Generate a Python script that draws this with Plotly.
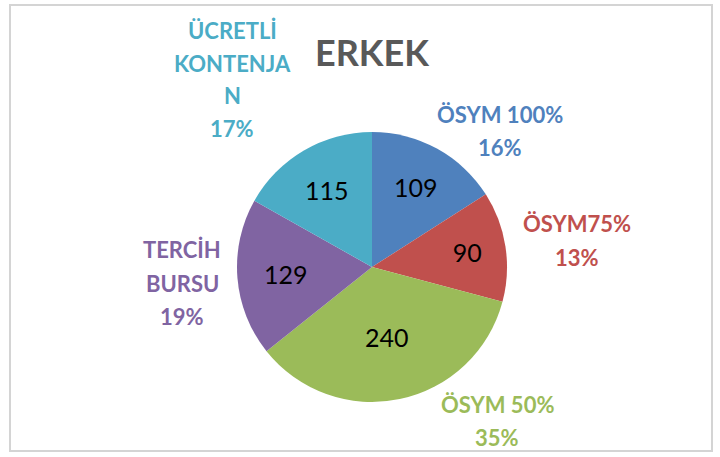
import plotly.graph_objects as go

# Data
categories = ['ÖSYM 100%', 'ÖSYM75%', 'ÖSYM 50%', 'TERCİH BURSU', 'ÜCRETLİ KONTENJAN']
values = [109, 90, 240, 129, 115]
colors = ['#4F81BD', '#C0504D', '#9BBB59', '#8064A2', '#4BACC6']

# outside label lines (as wrapped in the original chart) and their anchor (px)
label_lines = [
    ['ÖSYM 100%', '16%'],
    ['ÖSYM75%', '13%'],
    ['ÖSYM 50%', '35%'],
    ['TERCİH', 'BURSU', '19%'],
    ['ÜCRETLİ', 'KONTENJA', 'N', '17%'],
]
label_pos = [(500, 114), (577, 224), (497, 404), (182, 250), (232, 30)]
LINE_STEP = 33

W, H = 720, 457
cx, cy, r = 372, 267, 135

fig = go.Figure(go.Pie(
    labels=categories,
    values=values,
    sort=False,
    direction='clockwise',
    rotation=0,
    marker=dict(colors=colors, line=dict(color='white', width=0)),
    textinfo='value',
    textposition='inside',
    insidetextorientation='horizontal',
    textfont=dict(family='Lato, Carlito, sans-serif', size=25, color='black'),
    domain=dict(x=[(cx - r) / W, (cx + r) / W], y=[1 - (cy + r) / H, 1 - (cy - r) / H]),
    showlegend=False,
    hoverinfo='label+value+percent',
))

annotations = [dict(
    x=cx / W, y=1 - 52 / H, xref='paper', yref='paper',
    text='<b>ERKEK</b>', showarrow=False,
    font=dict(family='Lato, Carlito, sans-serif', size=36, color='#595959'),
    xanchor='center', yanchor='middle',
)]
for lines, (lx, ly), col in zip(label_lines, label_pos, colors):
    for k, line in enumerate(lines):
        annotations.append(dict(
            x=lx / W, y=1 - (ly + k * LINE_STEP) / H, xref='paper', yref='paper',
            text='<b>' + line + '</b>', showarrow=False,
            font=dict(family='Lato, Carlito, sans-serif', size=22, color=col),
            xanchor='center', yanchor='middle',
        ))

fig.update_layout(
    width=W, height=H,
    margin=dict(l=0, r=0, t=0, b=0),
    paper_bgcolor='white',
    plot_bgcolor='white',
    annotations=annotations,
    shapes=[dict(
        type='rect', xref='paper', yref='paper', layer='above',
        x0=10 / W, x1=712 / W, y0=1 - 451 / H, y1=1 - 5 / H,
        line=dict(color='#D4D4D4', width=2),
    )],
)

# drop the default body margin so the 720x457 figure fits the window exactly
fig.write_html(
    "out.html",
    config={'displayModeBar': False},
    post_script="document.body.style.margin='0';document.body.style.overflow='hidden';",
)
